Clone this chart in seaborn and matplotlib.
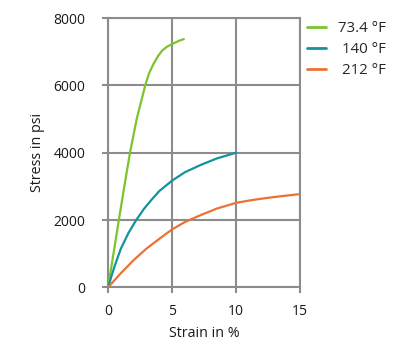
import numpy as np
import pandas as pd
import matplotlib
matplotlib.use("Agg")
import matplotlib.pyplot as plt
import seaborn as sns

# --- data ---
strain_734 = [0, 0.42, 0.84, 1.26, 1.71, 2.24, 2.9, 3.2, 3.55, 3.9, 4.21, 4.6, 5.0, 5.5, 5.92]
stress_734 = [0, 1000, 2000, 2980, 4000, 5010, 6000, 6360, 6640, 6870, 7030, 7150, 7230, 7320, 7380]

strain_140 = [0, 0.5, 1.0, 1.6, 2.2, 2.8, 3.3, 4.0, 5.0, 6.0, 7.2, 8.5, 10.0]
stress_140 = [0, 620, 1150, 1620, 2000, 2330, 2560, 2860, 3170, 3420, 3630, 3830, 4000]

strain_212 = [0, 1.0, 2.0, 3.0, 4.0, 5.0, 6.0, 7.2, 8.5, 10.0, 11.2, 12.5, 13.8, 15.0]
stress_212 = [0, 420, 810, 1150, 1440, 1720, 1940, 2140, 2340, 2510, 2590, 2660, 2720, 2770]

labels = ["73.4 °F", "140 °F", "212 °F"]
colors = ["#7cc42b", "#14939c", "#ea7234"]

df = pd.concat([
    pd.DataFrame({"Strain": strain_734, "Stress": stress_734, "Temp": labels[0]}),
    pd.DataFrame({"Strain": strain_140, "Stress": stress_140, "Temp": labels[1]}),
    pd.DataFrame({"Strain": strain_212, "Stress": stress_212, "Temp": labels[2]}),
])

sns.set_style("white")
plt.rcParams["font.family"] = ["Open Sans", "DejaVu Sans"]
plt.rcParams["ytick.major.pad"] = 12
plt.rcParams["xtick.major.pad"] = 7.5

fig = plt.figure(figsize=(4.11, 3.56), dpi=100)
ax = fig.add_axes([0.263, 0.193, 0.467, 0.756])

grid_col = "#8c8c8c"
txt_col = "#1a1a1a"
sns.lineplot(data=df, x="Strain", y="Stress", hue="Temp", hue_order=labels,
             palette=dict(zip(labels, colors)), sort=False, estimator=None,
             linewidth=1.6, ax=ax, zorder=3)

ax.set_xlim(0, 15)
ax.set_ylim(0, 8000)
ax.set_xticks([0, 5, 10, 15])
ax.set_yticks([0, 2000, 4000, 6000, 8000])
ax.grid(True, color=grid_col, linewidth=1.5)
for s in ax.spines.values():
    s.set_color(grid_col)
    s.set_linewidth(1.5)
ax.tick_params(axis="both", which="both", color=grid_col, width=1.5, length=4.3,
               labelsize=10, labelcolor=txt_col, direction="out",
               bottom=True, left=True)
ax.set_xlabel("Strain in %", fontsize=10.3, color=txt_col, labelpad=5)
ax.set_ylabel("Stress in psi", fontsize=10.3, color=txt_col, labelpad=6)

leg = ax.legend(loc="upper left", bbox_to_anchor=(307 / 411, 1 - 21 / 356),
                bbox_transform=fig.transFigure, frameon=False,
                fontsize=10.8, handlelength=1.25, handletextpad=0.8,
                labelspacing=0.4, borderaxespad=0, borderpad=0)
for h in leg.get_lines():
    h.set_linewidth(2)

# right-align legend labels
fig.canvas.draw()
renderer = fig.canvas.get_renderer()
widths = [t.get_window_extent(renderer).width for t in leg.get_texts()]
for t, w in zip(leg.get_texts(), widths):
    t.set_position((max(widths) - w, 0))

fig.savefig("out.png", dpi=100)
